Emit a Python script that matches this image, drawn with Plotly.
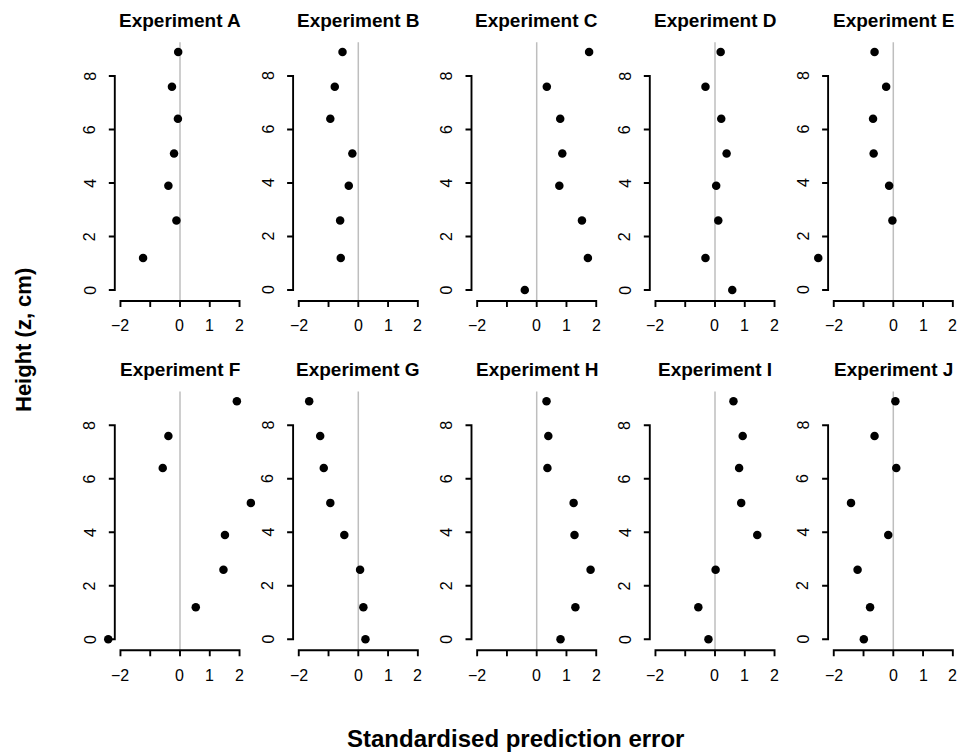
import plotly.graph_objects as go

heights = [0, 1.2, 2.6, 3.9, 5.1, 6.4, 7.6, 8.9]
experiments = ["Experiment A", "Experiment B", "Experiment C", "Experiment D", "Experiment E",
               "Experiment F", "Experiment G", "Experiment H", "Experiment I", "Experiment J"]

err_A = [None, -1.24, -0.12, -0.39, -0.20, -0.07, -0.27, -0.06]
err_B = [None, -0.59, -0.61, -0.32, -0.20, -0.94, -0.79, -0.53]
err_C = [-0.40, 1.72, 1.52, 0.76, 0.86, 0.79, 0.34, 1.76]
err_D = [0.58, -0.32, 0.11, 0.04, 0.39, 0.21, -0.32, 0.19]
err_E = [None, -2.52, -0.03, -0.14, -0.66, -0.68, -0.24, -0.63]
err_F = [-2.41, 0.53, 1.46, 1.51, 2.38, -0.58, -0.39, 1.91]
err_G = [0.24, 0.17, 0.06, -0.47, -0.94, -1.16, -1.28, -1.65]
err_H = [0.80, 1.30, 1.81, 1.27, 1.24, 0.36, 0.39, 0.33]
err_I = [-0.22, -0.56, 0.02, 1.42, 0.88, 0.81, 0.93, 0.62]
err_J = [-0.99, -0.78, -1.20, -0.17, -1.42, 0.10, -0.63, 0.07]
errors = [err_A, err_B, err_C, err_D, err_E, err_F, err_G, err_H, err_I, err_J]

x_tickvals = [-2, -1, 0, 1, 2]
x_ticktext = ["\u22122", "", "0", "1", "2"]
y_tickvals = [0, 2, 4, 6, 8]
y_ticktext = ["0", "2", "4", "6", "8"]

x_title = "Standardised prediction error"
y_title = "Height (z, cm)"

W, H = 961, 755
FONT = "Liberation Sans, Arial, Helvetica, sans-serif"

# plot-region limits (R "usr") and pixel scale
USR_X = (-2.19, 2.19)
USR_Y = (-0.41, 9.26)
PX_X = 29.77   # px per x unit
PX_Y = 26.75   # px per y unit
TICK = 6       # tick length px

col_zero = [180, 358.3, 536.7, 715, 893.3]
row_zero = [290.0, 639.3]
title_y = [21, 369]

fig = go.Figure()
layout = dict(
    width=W, height=H, margin=dict(l=0, r=0, t=0, b=0),
    paper_bgcolor="white", plot_bgcolor="rgba(0,0,0,0)", showlegend=False,
    font=dict(family=FONT, color="black"),
)
shapes = []
annotations = []
axis_line = dict(color="black", width=1.9)


def fmt(v):
    return "%.4f" % v


for i, (name, err) in enumerate(zip(experiments, errors)):
    r, c = divmod(i, 5)
    n = i + 1
    sx = "" if n == 1 else str(n)
    xr = [-2.65, 2.2 if c == 4 else 2.45]
    yr = [-0.8, 9.3]
    x0 = col_zero[c]
    y0 = row_zero[r]
    layout["xaxis" + sx] = dict(
        domain=[(x0 + xr[0] * PX_X) / W, (x0 + xr[1] * PX_X) / W], range=xr,
        anchor="y" + sx, visible=False, fixedrange=True,
    )
    layout["yaxis" + sx] = dict(
        domain=[1 - (y0 - yr[0] * PX_Y) / H, 1 - (y0 - yr[1] * PX_Y) / H], range=yr,
        anchor="x" + sx, visible=False, fixedrange=True,
    )
    xa, ya = "x" + sx, "y" + sx
    # reference line at zero
    shapes.append(dict(type="line", xref=xa, yref=ya, x0=0, x1=0, y0=USR_Y[0], y1=USR_Y[1],
                       layer="below", line=dict(color="#bebebe", width=1.5)))
    # x axis (R style: line from first to last tick, ticks pointing down)
    yb = USR_Y[0]
    yt = USR_Y[0] - TICK / PX_Y
    p = "M %s,%s L %s,%s L %s,%s L %s,%s" % (fmt(x_tickvals[0]), fmt(yt), fmt(x_tickvals[0]), fmt(yb),
                                             fmt(x_tickvals[-1]), fmt(yb), fmt(x_tickvals[-1]), fmt(yt))
    for tv in x_tickvals[1:-1]:
        p += " M %s,%s L %s,%s" % (fmt(tv), fmt(yb), fmt(tv), fmt(yt))
    shapes.append(dict(type="path", xref=xa, yref=ya, path=p, line=axis_line))
    for tv, tt in zip(x_tickvals, x_ticktext):
        if tt:
            annotations.append(dict(text=tt, xref=xa, yref=ya, x=tv, y=USR_Y[0],
                                    yshift=-25, xanchor="center", yanchor="middle",
                                    showarrow=False, font=dict(size=16, family=FONT, color="black")))
    # y axis (line from first to last tick, ticks pointing left)
    xl = USR_X[0]
    xt = USR_X[0] - TICK / PX_X
    p = "M %s,%s L %s,%s L %s,%s L %s,%s" % (fmt(xt), fmt(y_tickvals[0]), fmt(xl), fmt(y_tickvals[0]),
                                             fmt(xl), fmt(y_tickvals[-1]), fmt(xt), fmt(y_tickvals[-1]))
    for tv in y_tickvals[1:-1]:
        p += " M %s,%s L %s,%s" % (fmt(xl), fmt(tv), fmt(xt), fmt(tv))
    shapes.append(dict(type="path", xref=xa, yref=ya, path=p, line=axis_line))
    for tv, tt in zip(y_tickvals, y_ticktext):
        annotations.append(dict(text=tt, xref=xa, yref=ya, x=USR_X[0], y=tv,
                                xshift=-25, xanchor="center", yanchor="middle", textangle=-90,
                                showarrow=False, font=dict(size=16, family=FONT, color="black")))
    annotations.append(dict(text="<b>" + name + "</b>", xref="paper", yref="paper",
                            x=x0 / W, y=1 - title_y[r] / H, xanchor="center", yanchor="middle",
                            showarrow=False, font=dict(size=19, family=FONT, color="black")))
    fig.add_trace(go.Scatter(
        x=err, y=heights, mode="markers", xaxis=xa, yaxis=ya,
        marker=dict(color="black", size=8.5, line=dict(width=0)),
        cliponaxis=False, hoverinfo="x+y",
    ))

annotations.append(dict(text="<b>" + y_title + "</b>", xref="paper", yref="paper",
                        x=23 / W, y=1 - 340 / H, xanchor="center", yanchor="middle",
                        textangle=-90, showarrow=False,
                        font=dict(size=22, family=FONT, color="black")))
annotations.append(dict(text="<b>" + x_title + "</b>", xref="paper", yref="paper",
                        x=515 / W, y=1 - 738 / H, xanchor="center", yanchor="middle",
                        showarrow=False, font=dict(size=24, family=FONT, color="black")))

layout["shapes"] = shapes
layout["annotations"] = annotations
fig.update_layout(**layout)
fig.write_html("out.html")
